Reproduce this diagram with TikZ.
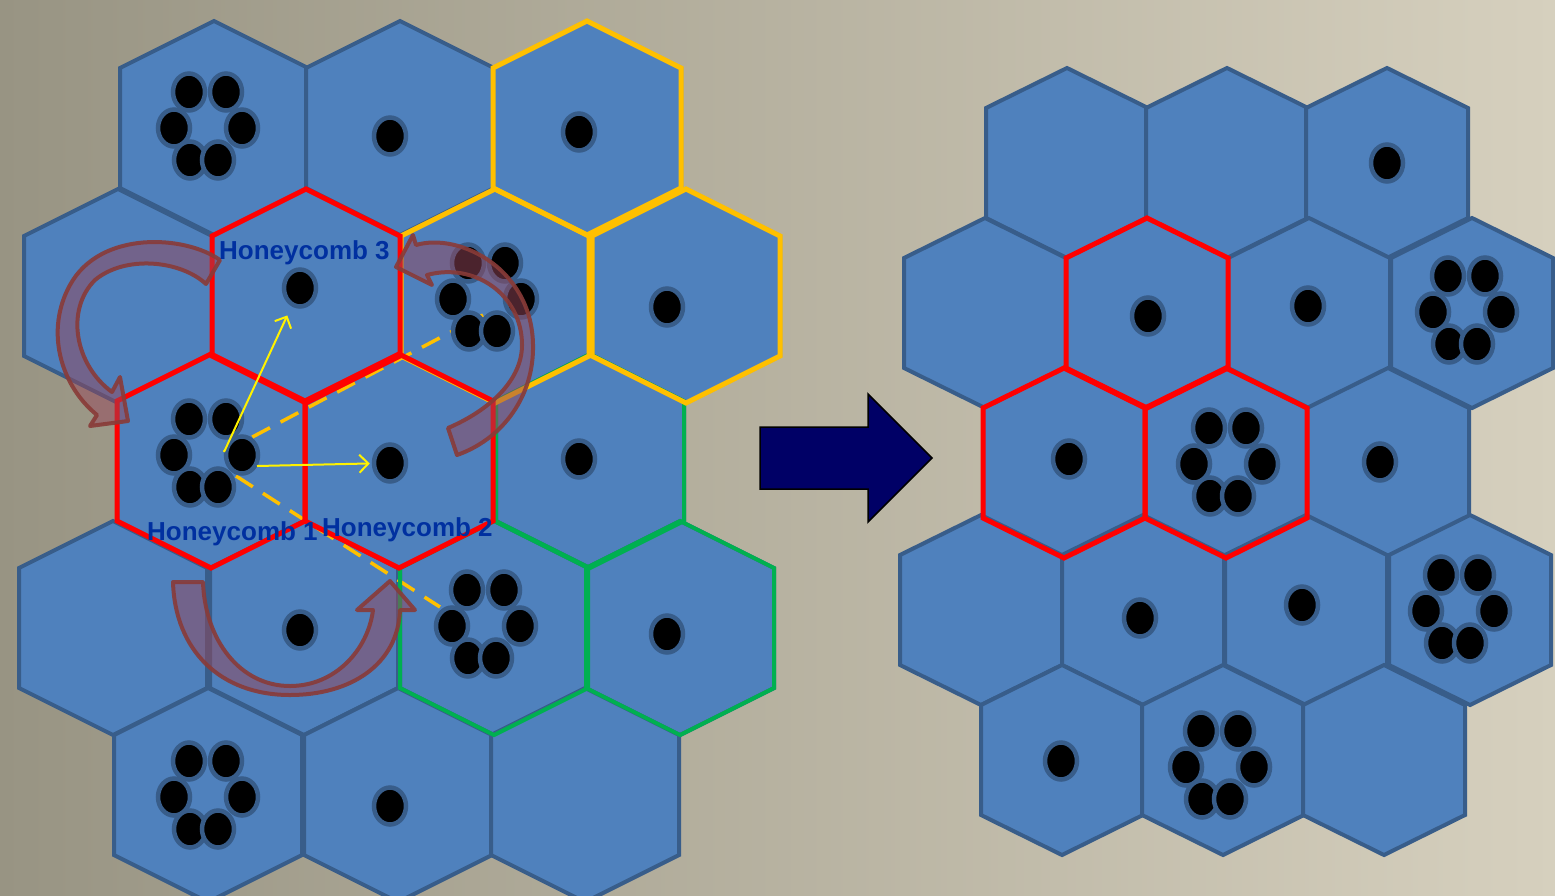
\documentclass[tikz,border=0pt]{standalone}
\usepackage{fontspec}
\setmainfont{Liberation Sans}
\usepackage{xcolor}
\definecolor{cellblue}{RGB}{79,129,189}
\definecolor{celledge}{RGB}{56,93,138}
\definecolor{combred}{RGB}{255,0,0}
\definecolor{combyellow}{RGB}{255,192,0}
\definecolor{combgreen}{RGB}{0,176,80}
\definecolor{swirlfill}{RGB}{150,70,90}
\definecolor{swirledge}{RGB}{137,59,56}
\definecolor{labelblue}{RGB}{0,48,160}
\definecolor{navyarrow}{RGB}{0,0,102}
\definecolor{bgleft}{RGB}{152,148,131}
\definecolor{bgright}{RGB}{214,208,190}
\usepackage{tikz}
\usetikzlibrary{shapes.geometric,arrows.meta,positioning,calc}

\begin{document}
\begin{tikzpicture}[x=1pt,y=-1pt]
  \tikzstyle{cell}=[fill=cellblue,draw=celledge,line width=4pt]
  \tikzstyle{redcomb}=[draw=combred,line width=5pt]
  \tikzstyle{yellowcomb}=[draw=combyellow,line width=5pt]
  \tikzstyle{greencomb}=[draw=combgreen,line width=4pt]
  \tikzstyle{dot}=[ellipse,fill=black,draw=celledge,line width=4.5pt,minimum width=32pt,minimum height=37pt,inner sep=0pt]
  \tikzstyle{swirl}=[fill=swirlfill,fill opacity=0.5,draw=swirledge,draw opacity=0.9,line width=4pt,line join=round]
  \tikzstyle{link}=[draw=yellow,line width=2pt,-{Straight Barb[length=9pt,width=18pt]}]
  \tikzstyle{reach}=[draw=combyellow,line width=3.5pt,dash pattern=on 20pt off 12pt]
  \tikzstyle{combname}=[font=\bfseries\fontsize{26}{30}\selectfont,text=labelblue,inner sep=0pt,anchor=base west]
  \tikzset{
    lefthex/.pic={\path[pic actions] (0,-107) -- (94,-60) -- (94,60) -- (0,107) -- (-94,60) -- (-94,-60) -- cycle;},
    righthex/.pic={\path[pic actions] (0,-95) -- (81,-55) -- (81,55) -- (0,95) -- (-81,55) -- (-81,-55) -- cycle;},
    cluster/.pic={
      \node[dot] (-a) at (-19,-34) {};
      \node[dot] (-b) at (18,-34) {};
      \node[dot] (-c) at (-34,2) {};
      \node[dot] (-d) at (34,2) {};
      \node[dot] (-e) at (-18,34) {};
      \node[dot] (-f) at (10,34) {};
    }
  }

  \shade[left color=bgleft,right color=bgright] (0,0) rectangle (1555,895);
  \useasboundingbox (0,0) rectangle (1555,895);

  % left honeycomb
  \pic[cell] at (214,128) {lefthex};
  \pic[cell] at (400,128) {lefthex};
  \pic[cell] at (587,128) {lefthex};
  \pic[cell] at (118,296) {lefthex};
  \pic[cell] at (306,296) {lefthex};
  \pic[cell] at (495,296) {lefthex};
  \pic[cell] at (686,296) {lefthex};
  \pic[cell] at (211,461) {lefthex};
  \pic[cell] at (399,461) {lefthex};
  \pic[cell] at (590,461) {lefthex};
  \pic[cell] at (113,628) {lefthex};
  \pic[cell] at (304,628) {lefthex};
  \pic[cell] at (494,628) {lefthex};
  \pic[cell] at (680,628) {lefthex};
  \pic[cell] at (208,795) {lefthex};
  \pic[cell] at (398,795) {lefthex};
  \pic[cell] at (585,795) {lefthex};

  % right honeycomb
  \pic[cell] at (1067,163) {righthex};
  \pic[cell] at (1227,163) {righthex};
  \pic[cell] at (1387,163) {righthex};
  \pic[cell] at (985,313) {righthex};
  \pic[cell] at (1147,313) {righthex};
  \pic[cell] at (1309,313) {righthex};
  \pic[cell] at (1472,313) {righthex};
  \pic[cell] at (1064,463) {righthex};
  \pic[cell] at (1226,463) {righthex};
  \pic[cell] at (1388,463) {righthex};
  \pic[cell] at (981,610) {righthex};
  \pic[cell] at (1143,610) {righthex};
  \pic[cell] at (1306,610) {righthex};
  \pic[cell] at (1470,610) {righthex};
  \pic[cell] at (1062,760) {righthex};
  \pic[cell] at (1223,760) {righthex};
  \pic[cell] at (1384,760) {righthex};

  % dashed reach lines (under the users)
  \coordinate (fan) at (224,452);
  \coordinate (fan3) at (236,476);
  \coordinate (reach1) at (483,315);
  \coordinate (reach2) at (440,607);
  \draw[reach] (fan) -- (reach1);
  \draw[reach] (fan3) -- (reach2);

  % users, left
  \pic (l11) at (208,126) {cluster};
  \node[dot] (l12) at (390,136) {};
  \node[dot] (l13) at (579,132) {};
  \node[dot] (l22) at (300,288) {};
  \pic (l23) at (487,297) {cluster};
  \node[dot] (l24) at (667,307) {};
  \pic (l31) at (208,453) {cluster};
  \node[dot] (l32) at (390,463) {};
  \node[dot] (l33) at (579,459) {};
  \node[dot] (l42) at (300,630) {};
  \pic (l43) at (486,624) {cluster};
  \node[dot] (l44) at (667,634) {};
  \pic (l51) at (208,795) {cluster};
  \node[dot] (l52) at (390,806) {};

  % users, right
  \node[dot] (r13) at (1387,163) {};
  \node[dot] (r22) at (1148,316) {};
  \node[dot] (r23) at (1308,306) {};
  \pic (r24) at (1467,310) {cluster};
  \node[dot] (r31) at (1069,459) {};
  \pic (r32) at (1228,462) {cluster};
  \node[dot] (r33) at (1380,462) {};
  \node[dot] (r42) at (1140,618) {};
  \node[dot] (r43) at (1302,605) {};
  \pic (r44) at (1460,609) {cluster};
  \node[dot] (r51) at (1061,761) {};
  \pic (r52) at (1220,765) {cluster};

  % coloured honeycombs
  \pic[greencomb] at (590,461) {lefthex};
  \pic[greencomb] at (494,628) {lefthex};
  \pic[greencomb] at (680,628) {lefthex};
  \pic[yellowcomb] at (587,128) {lefthex};
  \pic[yellowcomb] at (495,296) {lefthex};
  \pic[yellowcomb] at (686,296) {lefthex};
  \pic[redcomb] at (306,296) {lefthex};
  \pic[redcomb] at (211,461) {lefthex};
  \pic[redcomb] at (399,461) {lefthex};
  \pic[redcomb] at (1147,313) {righthex};
  \pic[redcomb] at (1064,463) {righthex};
  \pic[redcomb] at (1226,463) {righthex};

  % rotation arrows
  \draw[swirl] (220,260) .. controls (185,235) and (100,230) .. (70,285)
    .. controls (45,330) and (60,385) .. (97,415) -- (90,426) -- (128,421) -- (120,377) -- (112,392)
    .. controls (75,365) and (65,310) .. (95,280) .. controls (125,255) and (180,260) .. (206,284) -- cycle;
  \draw[swirl] (416,245) .. controls (460,232) and (535,270) .. (533,350)
    .. controls (532,400) and (500,440) .. (457,455) -- (448,428)
    .. controls (490,410) and (522,380) .. (522,345) .. controls (522,295) and (475,262) .. (427,275)
    -- (432,285) -- (396,267) -- (413,235) -- cycle;
  \draw[swirl] (173,582) -- (203,582) .. controls (205,640) and (240,686) .. (290,686)
    .. controls (335,686) and (368,650) .. (373,610) -- (357,610) -- (390,581) -- (415,610) -- (400,610)
    .. controls (398,665) and (350,695) .. (290,695) .. controls (220,695) and (175,650) .. (173,582) -- cycle;

  % interference links
  \coordinate (fan2) at (257,466);
  \draw[link,shorten >=10pt] (fan) -- (l22);
  \draw[link,shorten >=2pt] (fan2) -- (l32);

  \node[combname] (name3) at (219,259) {Honeycomb 3};
  \node[combname] (name1) at (147,540) {Honeycomb 1};
  \node[combname] (name2) at (322,536) {Honeycomb 2};

  % transition
  \draw[fill=navyarrow,draw=black,line width=1.5pt] (760,427) -- (868,427) -- (868,394) -- (932,458)
    -- (868,522) -- (868,489) -- (760,489) -- cycle;
\end{tikzpicture}
\end{document}
